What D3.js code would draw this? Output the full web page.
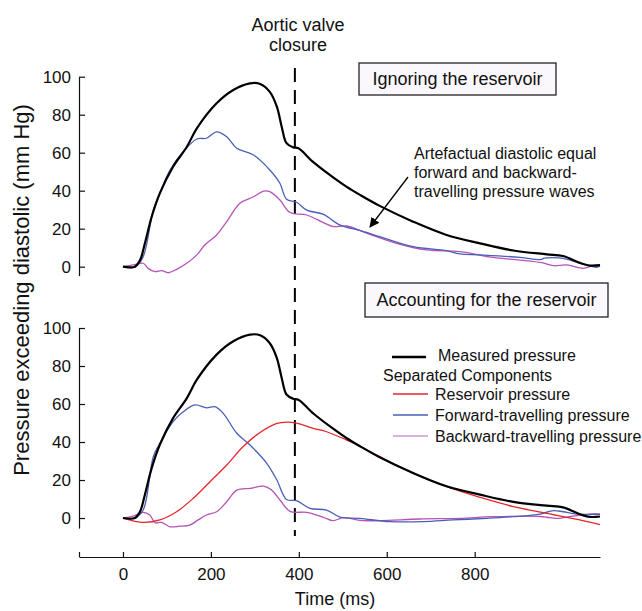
<!DOCTYPE html>
<html>
<head>
<meta charset="utf-8">
<script src="https://cdn.jsdelivr.net/npm/d3@7"></script>
<style>
  body { margin: 0; background: #fff; }
  svg text { font-family: "Liberation Sans", Arial, sans-serif; fill: #111; }
</style>
</head>
<body>
<div id="mainDiv"></div>
<script>
'use strict';

// tempos (ms) e pressões (mm Hg)
var measuredT = [0, 27, 39, 50, 65, 84, 114, 145, 168, 213, 251, 289, 312, 334, 350, 361, 372, 387, 399, 433, 478, 509, 539, 584, 660, 736, 812, 888, 964, 1001, 1039, 1062, 1085];
var measuredP = [0, 0, 3.5, 12.4, 26, 38.7, 52.6, 63, 72.8, 86, 93, 96.5, 96.2, 92, 84.2, 73.7, 65, 62.8, 62.3, 55, 47, 42, 37.8, 32, 23.7, 16.7, 12.3, 8.5, 6.5, 5.6, 2, 0.6, 0.8];

// painel de cima: ignorando o reservatório
var fwdTopT = [0, 27, 46, 69, 84, 107, 137, 168, 190, 213, 236, 259, 297, 334, 357, 372, 395, 418, 456, 494, 539, 584, 660, 736, 766, 812, 903, 950, 958, 979, 1001, 1054, 1077, 1085];
var fwdTopP = [0, -0.3, 5.3, 29.8, 38.7, 50.9, 60.5, 67.2, 67.6, 71, 68.4, 62.3, 58.8, 50.9, 43.9, 35.5, 33.9, 29.8, 27.5, 21.9, 19.1, 15.8, 10.5, 8.4, 6.7, 6.2, 4.9, 3.7, 4.5, 4.8, 4.4, 0.9, -0.3, 0.4];
var bwdTopT = [0, 23, 46, 57, 73, 88, 103, 122, 145, 168, 186, 213, 236, 266, 297, 320, 334, 357, 380, 418, 456, 478, 509, 554, 622, 690, 766, 842, 903, 952, 979, 1009, 1047, 1069, 1085];
var bwdTopP = [0, 0.9, 1.8, -0.9, -2.6, -2.1, -3.2, -1.4, 1.8, 6.2, 11.4, 16.7, 23.7, 33.4, 36.8, 39.8, 39.5, 35.1, 28.5, 27.2, 23.2, 21.1, 21.4, 17.6, 12.3, 8.8, 7.9, 4.9, 3.5, 2.1, 0.5, 0.9, -0.9, 0.5, 0.4];

// painel de baixo: considerando o reservatório
var resT = [0, 46, 84, 122, 160, 198, 236, 273, 311, 350, 372, 395, 433, 463, 509, 539, 584, 660, 736, 812, 888, 964, 1039, 1085];
var resP = [0, -2.3, -1, 3.3, 10.4, 19.1, 27.9, 37.5, 44.9, 49.8, 50.5, 50, 47.2, 45.4, 41, 37.9, 32.3, 23.5, 16.5, 10.9, 6, 2.5, -1, -3.5];
var fwdBotT = [0, 27, 46, 69, 84, 114, 137, 164, 190, 209, 228, 259, 289, 327, 350, 372, 395, 425, 463, 494, 539, 607, 683, 751, 827, 888, 949, 979, 1001, 1032, 1085];
var fwdBotP = [0, 0, 4.2, 32.3, 39.3, 50.7, 55.9, 59.5, 58, 58.6, 55.1, 44.6, 38.4, 28.8, 20, 9.8, 9.1, 5.1, 4.2, 0.5, -0.2, -1.9, -1.9, -1, -0.2, 0.7, 2.1, 3.9, 3.3, 2.1, 2];
var bwdBotT = [0, 23, 46, 61, 73, 88, 107, 129, 152, 171, 190, 213, 236, 259, 289, 320, 338, 357, 380, 418, 456, 478, 501, 539, 584, 675, 766, 842, 949, 964, 986, 1024, 1062, 1085];
var bwdBotP = [0, 1, 3, 1.6, -2.5, -2.3, -4.6, -4.3, -3.7, -1, 1.6, 3.3, 8.6, 14.7, 15.6, 16.8, 14.7, 9.5, 3.5, 3, 0.4, -1.4, 0.2, -1.2, -1.4, -0.5, -0.2, 0.7, 0.8, 0.4, -0.2, 1, 2.1, 2.1];

var valveTime = 391;
var xTicks = [-100, 0, 200, 400, 600, 800];
var yTicks = [0, 20, 40, 60, 80, 100];

var legendKeys = ['Reservoir pressure', 'Forward-travelling pressure', 'Backward-travelling pressure'];

var chart = {};
chart.w = 642;
chart.h = 611;
chart.black = '#000';
chart.red = '#e3262b';
chart.blue = '#4a5fb5';
chart.purple = '#b553b6';
chart.legendColors = [chart.red, chart.blue, '#c99bd0'];

chart.x = d3.scaleLinear().domain([-100, 1085]).range([79, 600]);
chart.yTop = d3.scaleLinear().domain([-4.7, 100]).range([275.6, 76.7]);
chart.yBot = d3.scaleLinear().domain([-5.3, 100]).range([528.1, 328]);

chart.zip = function(ts, ps)
{
    return ts.map(function(t, i) { return {t: t, p: ps[i]}; });
}

chart.appendSvg = function(div)
{
    return d3.select(div).append('svg')
        .attr('width', chart.w)
        .attr('height', chart.h);
}

chart.drawLine = function(svg, yScale, ts, ps, color, width)
{
    var line = d3.line()
        .x(function(d) { return chart.x(d.t); })
        .y(function(d) { return yScale(d.p); })
        .curve(d3.curveCatmullRom.alpha(0.5));

    svg.append('path')
        .datum(chart.zip(ts, ps))
        .attr('d', line)
        .attr('fill', 'none')
        .attr('stroke', color)
        .attr('stroke-width', width)
        .attr('stroke-linejoin', 'round');
}

chart.yAxis = function(svg, yScale)
{
    var g = svg.append('g')
        .attr('transform', 'translate(' + chart.x.range()[0] + ',0)')
        .call(d3.axisLeft(yScale).tickValues(yTicks).tickSizeInner(-6).tickSizeOuter(0).tickPadding(8));
    g.selectAll('text').style('font-size', '17px').attr('fill', '#111');
    g.selectAll('line, path').attr('stroke', '#111').attr('stroke-width', 1.2);
}

chart.xAxis = function(svg)
{
    var g = svg.append('g')
        .attr('transform', 'translate(0,557)')
        .call(d3.axisBottom(chart.x).tickValues(xTicks).tickSizeInner(-5).tickSizeOuter(0).tickPadding(11)
            .tickFormat(function(d) { return d < 0 ? '' : d; }));
    g.selectAll('text').style('font-size', '17px').attr('fill', '#111');
    g.selectAll('line, path').attr('stroke', '#111').attr('stroke-width', 1.2);
}

chart.box = function(svg, x0, y0, x1, y1, label)
{
    svg.append('rect')
        .attr('x', x0).attr('y', y0)
        .attr('width', x1 - x0).attr('height', y1 - y0)
        .attr('fill', '#faf8fc')
        .attr('stroke', '#222')
        .attr('stroke-width', 1.3);
    svg.append('text')
        .attr('x', (x0 + x1) / 2)
        .attr('y', (y0 + y1) / 2 + 6)
        .attr('text-anchor', 'middle')
        .style('font-size', '18px')
        .text(label);
}

chart.addLegend = function(svg)
{
    svg.append('line')
        .attr('x1', 392).attr('x2', 426).attr('y1', 357).attr('y2', 357)
        .attr('stroke', chart.black).attr('stroke-width', 2.4);
    svg.append('text').attr('x', 438).attr('y', 361).style('font-size', '16px').text('Measured pressure');
    svg.append('text').attr('x', 383).attr('y', 381).style('font-size', '16px').text('Separated Components');

    var rows = svg.selectAll('g.leg')
        .data(legendKeys)
        .enter()
        .append('g')
        .attr('class', 'leg')
        .attr('transform', function(d, i) { return 'translate(0,' + (394 + i * 21) + ')'; });
    rows.append('line')
        .attr('x1', 393).attr('x2', 428)
        .attr('stroke', function(d, i) { return chart.legendColors[i]; })
        .attr('stroke-width', 1.6);
    rows.append('text')
        .attr('x', 435).attr('y', 6)
        .style('font-size', '16px')
        .text(function(d) { return d; });
}

chart.run = function()
{
    var svg = chart.appendSvg('#mainDiv');

    svg.append('defs').append('marker')
        .attr('id', 'arrow')
        .attr('viewBox', '0 0 10 10')
        .attr('refX', 9).attr('refY', 5)
        .attr('markerWidth', 10).attr('markerHeight', 10)
        .attr('markerUnits', 'userSpaceOnUse')
        .attr('orient', 'auto')
        .append('path')
        .attr('d', 'M0,0L10,5L0,10z')
        .attr('fill', '#000');

    chart.yAxis(svg, chart.yTop);
    chart.yAxis(svg, chart.yBot);
    chart.xAxis(svg);

    // linha tracejada do fechamento da válvula aórtica
    svg.append('line')
        .attr('x1', chart.x(valveTime)).attr('x2', chart.x(valveTime))
        .attr('y1', 68).attr('y2', 536)
        .attr('stroke', '#000')
        .attr('stroke-width', 2)
        .attr('stroke-dasharray', '14,8');

    chart.drawLine(svg, chart.yTop, bwdTopT, bwdTopP, chart.purple, 1.3);
    chart.drawLine(svg, chart.yTop, fwdTopT, fwdTopP, chart.blue, 1.3);
    chart.drawLine(svg, chart.yTop, measuredT, measuredP, chart.black, 2.2);

    chart.drawLine(svg, chart.yBot, bwdBotT, bwdBotP, chart.purple, 1.3);
    chart.drawLine(svg, chart.yBot, fwdBotT, fwdBotP, chart.blue, 1.3);
    chart.drawLine(svg, chart.yBot, resT, resP, chart.red, 1.3);
    chart.drawLine(svg, chart.yBot, measuredT, measuredP, chart.black, 2.2);

    svg.append('text').attr('x', 298).attr('y', 31).attr('text-anchor', 'middle').style('font-size', '18px').text('Aortic valve');
    svg.append('text').attr('x', 298).attr('y', 51).attr('text-anchor', 'middle').style('font-size', '18px').text('closure');

    chart.box(svg, 359, 63, 556, 95, 'Ignoring the reservoir');
    chart.box(svg, 365, 283, 608, 317, 'Accounting for the reservoir');

    var note = ['Artefactual diastolic equal', 'forward and backward-', 'travelling pressure waves'];
    svg.selectAll('text.note')
        .data(note)
        .enter()
        .append('text')
        .attr('class', 'note')
        .attr('x', 414)
        .attr('y', function(d, i) { return 159 + i * 19; })
        .style('font-size', '16px')
        .text(function(d) { return d; });

    svg.append('line')
        .attr('x1', 408).attr('y1', 177).attr('x2', 370).attr('y2', 227)
        .attr('stroke', '#000').attr('stroke-width', 1.3)
        .attr('marker-end', 'url(#arrow)');

    chart.addLegend(svg);

    svg.append('text')
        .attr('x', 335).attr('y', 605)
        .attr('text-anchor', 'middle')
        .style('font-size', '18px')
        .text('Time (ms)');

    svg.append('text')
        .attr('transform', 'rotate(-90)')
        .attr('x', -290).attr('y', 29)
        .attr('text-anchor', 'middle')
        .style('font-size', '22px')
        .text('Pressure exceeding diastolic (mm Hg)');
}

window.onload = chart.run;
</script>
</body>
</html>
